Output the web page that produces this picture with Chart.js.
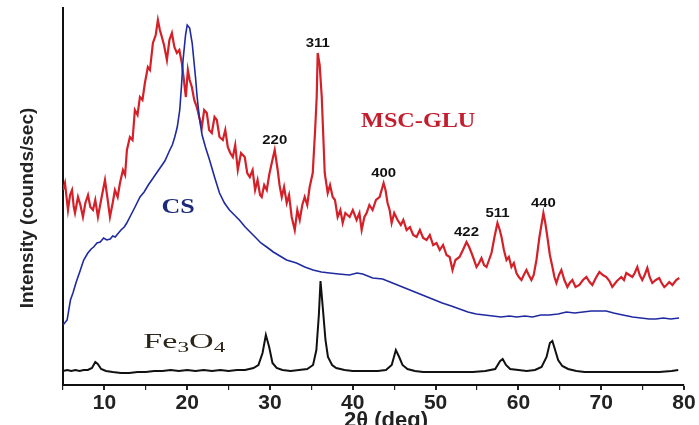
<!DOCTYPE html>
<html><head><meta charset="utf-8">
<script src="https://cdn.jsdelivr.net/npm/chart.js@4.4.1/dist/chart.umd.min.js"></script>
<style>html,body{margin:0;padding:0;background:#fff;overflow:hidden}#wrap{width:699px;height:425px;position:relative}</style>
</head><body><div id="wrap"><canvas id="c"></canvas></div>
<script>
// ---- data (2θ in degrees, intensity in arbitrary units) ----
const mscX = [5.0,5.24,5.6,5.85,6.09,6.3,6.45,6.81,7.1,7.41,7.7,8.02,8.3,8.62,8.9,9.22,9.6,10.07,10.4,10.67,11.0,11.27,11.6,11.88,12.24,12.5,12.72,13.08,13.4,13.68,14.0,14.29,14.6,14.89,15.25,15.5,15.86,16.2,16.46,16.7,16.94,17.2,17.55,17.85,18.15,18.45,18.75,19.05,19.35,19.6,19.84,20.08,20.3,20.56,20.85,21.16,21.45,21.77,22.05,22.37,22.65,22.97,23.3,23.58,23.9,24.3,24.6,24.9,25.2,25.51,25.8,26.11,26.5,26.95,27.25,27.56,27.9,28.2,28.5,28.8,29.0,29.3,29.61,29.9,30.21,30.57,30.93,31.15,31.42,31.7,32.02,32.3,32.62,32.99,33.3,33.59,33.9,34.19,34.5,34.79,35.16,35.45,35.64,35.76,36.0,36.25,36.61,36.97,37.25,37.57,37.85,38.17,38.5,38.78,39.1,39.62,40.0,40.46,40.8,41.07,41.4,41.67,42.0,42.39,42.8,43.24,43.72,43.95,44.2,44.45,44.69,45.0,45.41,45.8,46.1,46.5,46.9,47.3,47.7,48.1,48.5,48.91,49.3,49.7,50.11,50.5,50.9,51.32,51.7,52.04,52.4,52.89,53.3,53.73,54.05,54.34,54.65,54.94,55.25,55.54,55.85,56.15,56.45,56.75,57.11,57.47,57.75,57.96,58.25,58.56,58.85,59.16,59.45,59.76,60.05,60.37,60.65,60.97,61.25,61.57,61.85,62.18,62.54,63.02,63.25,63.5,63.8,64.11,64.35,64.59,64.9,65.19,65.55,65.92,66.2,66.52,66.9,67.36,67.8,68.21,68.6,68.93,69.35,69.78,70.2,70.62,71.0,71.34,71.9,72.43,72.75,73.03,73.4,73.76,74.05,74.36,74.65,74.96,75.25,75.57,75.85,76.17,76.6,77.01,77.3,77.62,77.9,78.22,78.6,79.06,79.43];
const mscY = [195,202,175,190,195,178,172,188,180,168,182,190,178,175,185,168,185,205,185,168,182,195,188,202,215,210,235,248,245,275,270,288,285,302,318,315,342,350,365,355,348,340,325,345,352,338,332,335,322,305,288,315,305,298,285,278,268,258,275,272,255,252,268,265,248,245,255,238,232,228,240,215,232,228,212,208,215,195,205,190,188,200,195,210,222,235,215,200,188,198,182,190,168,155,175,165,180,188,180,198,212,255,288,332,320,288,212,192,200,188,185,168,175,162,172,168,175,165,172,155,168,172,180,175,185,188,202,195,182,175,162,172,165,160,165,155,158,150,148,155,147,145,150,140,142,135,140,130,128,115,125,128,135,143,138,132,125,118,122,127,120,118,125,132,148,162,155,148,135,125,128,118,122,112,108,105,110,115,110,105,110,125,148,172,162,148,130,118,108,102,110,115,105,98,102,105,98,100,105,108,103,100,107,113,110,108,104,98,104,108,105,112,110,108,112,118,110,105,110,117,108,102,105,107,102,98,100,103,100,105,107];

const csX = [5.0,5.5,5.9,6.2,6.6,7.1,7.5,8.0,8.4,8.7,9.1,9.5,9.9,10.3,10.7,11.0,11.3,11.7,12.0,12.4,12.7,13.2,13.7,14.3,14.8,15.3,15.8,16.3,16.8,17.3,17.9,18.2,18.5,18.8,19.1,19.3,19.5,19.8,20.0,20.3,20.6,20.8,21.0,21.2,21.5,21.8,22.2,22.7,23.3,23.9,24.5,25.1,25.7,26.3,27.0,27.6,28.2,28.9,29.6,30.4,31.2,32.0,33.2,34.2,35.2,36.2,37.2,38.3,39.6,40.5,41.2,42.4,43.6,44.8,46.0,47.2,48.4,49.6,50.8,51.9,52.9,53.9,54.9,55.9,56.9,57.9,58.9,59.8,60.8,61.7,62.7,63.7,64.8,65.8,66.8,67.8,68.8,69.7,70.6,71.5,72.6,73.8,74.8,75.8,76.6,77.5,78.4,79.4];
const csY = [60,65,85,92,103,115,125,132,136,138,142,143,147,145,146,149,148,152,155,158,162,170,178,188,193,200,206,212,218,224,235,240,248,258,275,298,325,350,360,357,342,325,308,288,265,250,238,225,208,192,182,175,170,165,158,153,148,142,138,133,129,125,122,118,115,113,112,111,110,112,111,107,106,102,98,94,90,86,82,79,76,73,71,70,69,68,69,68,69,68,70,70,71,73,72,73,74,74,74,72,70,68,67,66,66,67,66,67];

const feX = [5.0,5.5,6.0,6.5,7.0,7.5,8.0,8.5,8.9,9.2,9.6,10.2,11.0,12.0,13.0,14.0,15.0,16.0,17.0,18.0,19.0,20.0,21.0,22.0,23.0,24.0,25.0,26.0,27.0,28.0,28.6,29.1,29.5,29.9,30.3,30.8,31.5,32.5,33.5,34.5,35.2,35.6,35.9,36.1,36.4,36.7,37.0,37.5,38.0,39.0,40.0,41.0,42.0,43.0,44.0,44.7,45.2,45.6,46.0,46.6,47.5,48.5,50.0,51.5,53.0,54.5,56.0,57.2,57.8,58.1,58.5,59.0,60.0,61.0,62.0,62.8,63.4,63.8,64.1,64.4,64.8,65.3,66.0,67.0,68.0,69.5,71.0,72.5,74.0,75.5,77.0,78.5,79.3];
const feY = [14,15,14,15,14,15,15,17,23,21,16,14,13,12,12,13,13,14,14,15,14,15,14,15,14,15,14,15,15,17,20,32,50,38,22,17,15,14,15,16,20,35,70,104,75,45,28,20,17,15,14,14,14,14,15,20,35,28,20,16,14,13,13,13,13,13,14,16,24,26,20,16,15,14,15,18,28,42,44,36,25,19,16,14,13,13,13,13,13,13,13,14,15];

const xTickLabels = [10,20,30,40,50,60,70,80];
const peakLabels = ['220','311','400','422','511','440'];
const peakTheta  = [30.57,35.76,43.72,53.73,57.47,63.02];
const seriesNames = ['MSC-GLU','CS','Fe3O4'];
const xTitle = '2θ (deg)';
const yTitle = 'Intensity (counds/sec)';

const pts = (xs, ys) => xs.map((v, i) => ({x: v, y: ys[i]}));
const peakValue = t => { let bi = 0; mscX.forEach((v,i)=>{ if (Math.abs(v-t) < Math.abs(mscX[bi]-t)) bi = i; }); return mscY[bi]; };

function stretchText(ctx, text, px, py, sx) {
  ctx.save(); ctx.translate(px, py); ctx.scale(sx, 1); ctx.fillText(text, 0, 0); ctx.restore();
}

const annot = {
  id: 'annot',
  afterDraw(chart) {
    const {ctx, scales: {x, y}} = chart;
    ctx.save();
    // peak labels
    ctx.font = 'bold 13px "Liberation Sans", Arial, sans-serif';
    ctx.fillStyle = '#111'; ctx.textAlign = 'center'; ctx.textBaseline = 'middle';
    peakLabels.forEach((t, i) => {
      stretchText(ctx, t, x.getPixelForValue(peakTheta[i]), y.getPixelForValue(peakValue(peakTheta[i])) - 10, 1.15);
    });
    // series names
    ctx.font = 'bold 22px "Liberation Serif", "Times New Roman", serif';
    ctx.fillStyle = '#c41e2e';
    stretchText(ctx, seriesNames[0], x.getPixelForValue(47.9), y.getPixelForValue(264), 1.1);
    ctx.font = 'bold 20px "Liberation Serif", "Times New Roman", serif';
    ctx.fillStyle = '#1b2a7a';
    stretchText(ctx, seriesNames[1], x.getPixelForValue(18.9), y.getPixelForValue(177), 1.3);
    // Fe3O4 with subscripts
    ctx.fillStyle = '#2b2419'; ctx.textAlign = 'left'; ctx.textBaseline = 'alphabetic';
    const fx = x.getPixelForValue(14.7), fy = y.getPixelForValue(37);
    ctx.save(); ctx.translate(fx, fy); ctx.scale(1.55, 1);
    let cx = 0;
    const parts = [['Fe',22,0],['3',15,4],['O',22,0],['4',15,4]];
    parts.forEach(([s, sz, dy]) => {
      ctx.font = sz + 'px "Liberation Serif", "Times New Roman", serif';
      ctx.fillText(s, cx, dy); cx += ctx.measureText(s).width;
    });
    ctx.restore();
    // axis titles
    ctx.fillStyle = '#222';
    ctx.font = 'bold 22px "Liberation Sans", Arial, sans-serif';
    ctx.textAlign = 'center'; ctx.textBaseline = 'alphabetic';
    ctx.fillText(xTitle, 386, 427);
    ctx.save(); ctx.translate(33, 208); ctx.rotate(-Math.PI / 2);
    ctx.font = 'bold 19px "Liberation Sans", Arial, sans-serif';
    ctx.fillText(yTitle, 0, 0);
    ctx.restore();
    ctx.restore();
  }
};

new Chart(document.getElementById('c'), {
  type: 'line',
  data: {
    datasets: [
      {label: seriesNames[1], data: pts(csX, csY), borderColor: '#1f2aa0', borderWidth: 1.6, pointRadius: 0, tension: 0, order: 0},
      {label: seriesNames[0], data: pts(mscX, mscY), borderColor: '#d42028', borderWidth: 2.2, pointRadius: 0, tension: 0, order: 1},
      {label: seriesNames[2], data: pts(feX, feY), borderColor: '#111111', borderWidth: 2, pointRadius: 0, tension: 0, order: 2}
    ]
  },
  options: {
    responsive: true, maintainAspectRatio: false, animation: false,
    layout: {padding: {top: 8, right: 15, left: 0, bottom: 0}},
    plugins: {legend: {display: false}, tooltip: {enabled: false}},
    scales: {
      x: {
        type: 'linear', min: 5, max: 80,
        ticks: {stepSize: 5, autoSkip: false, maxRotation: 0, padding: 1, color: '#222',
          callback: v => xTickLabels.includes(v) ? String(v) : '',
          font: {family: '"Liberation Sans", Arial, sans-serif', size: 21, weight: 'bold'}},
        grid: {drawOnChartArea: false, drawTicks: true, tickLength: 5, color: '#222',
          lineWidth: c => (c.tick && xTickLabels.includes(c.tick.value)) ? 2 : 1.2},
        border: {display: true, color: '#111', width: 2},
        afterFit(s) { s.height = 40; }
      },
      y: {
        min: 0, max: 377,
        ticks: {display: false},
        grid: {display: false},
        border: {display: true, color: '#111', width: 2},
        afterFit(s) { s.width = 63; }
      }
    }
  },
  plugins: [annot]
});
</script>
</body></html>
